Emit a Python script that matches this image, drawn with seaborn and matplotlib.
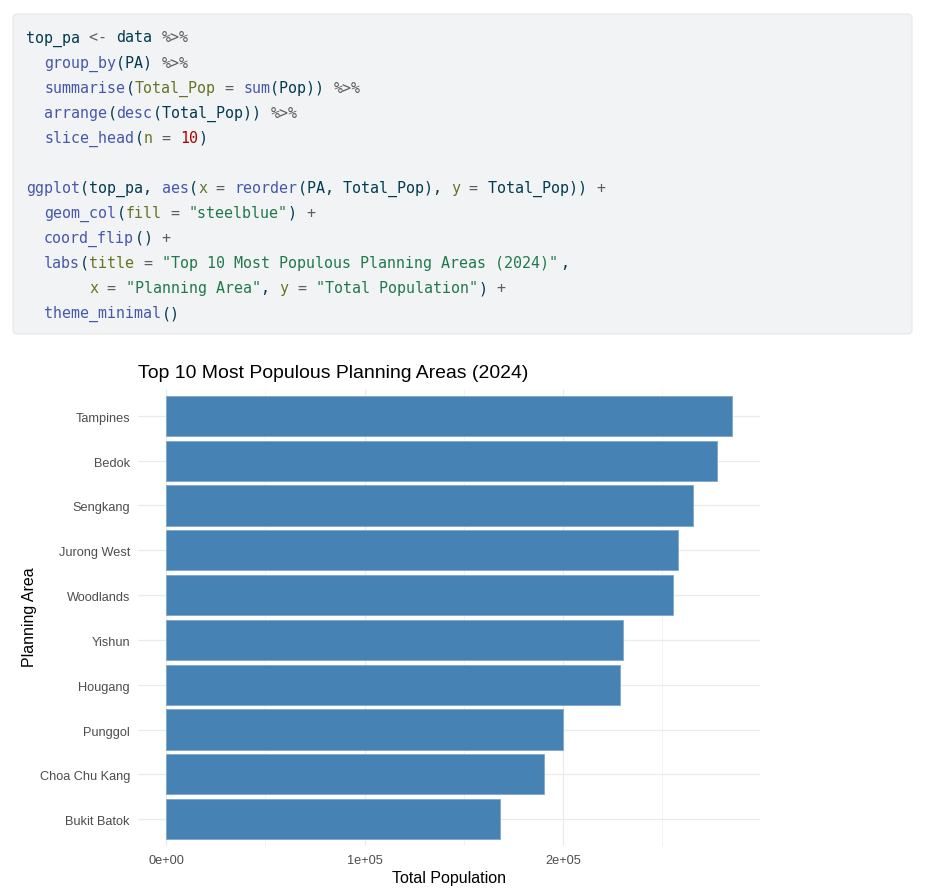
import matplotlib
matplotlib.use("Agg")
import matplotlib.pyplot as plt
import matplotlib.transforms as mtransforms
from matplotlib.patches import FancyBboxPatch
import seaborn as sns
import pandas as pd

# ---------------- data ----------------
areas = ["Tampines", "Bedok", "Sengkang", "Jurong West", "Woodlands",
         "Yishun", "Hougang", "Punggol", "Choa Chu Kang", "Bukit Batok"]
total_pop = [285100, 277700, 265400, 257900, 255500,
             230400, 228700, 199800, 190700, 168400]
xtick_values = [0, 100000, 200000]
xtick_labels = ["0e+00", "1e+05", "2e+05"]
xminor_values = [50000, 150000, 250000]
title_text = "Top 10 Most Populous Planning Areas (2024)"
xlabel_text = "Total Population"
ylabel_text = "Planning Area"

code_lines = [
    [("top_pa", "d"), (" <- ", "op"), ("data", "d"), (" %>%", "op")],
    [("  group_by", "fn"), ("(PA) ", "d"), ("%>%", "op")],
    [("  summarise", "fn"), ("(", "d"), ("Total_Pop", "arg"), (" = ", "op"),
     ("sum", "fn"), ("(Pop)) ", "d"), ("%>%", "op")],
    [("  arrange", "fn"), ("(", "d"), ("desc", "fn"), ("(Total_Pop)) ", "d"), ("%>%", "op")],
    [("  slice_head", "fn"), ("(", "d"), ("n", "arg"), (" = ", "op"), ("10", "num"), (")", "d")],
    [],
    [("ggplot", "fn"), ("(top_pa, ", "d"), ("aes", "fn"), ("(", "d"), ("x", "arg"),
     (" = ", "op"), ("reorder", "fn"), ("(PA, Total_Pop), ", "d"), ("y", "arg"),
     (" = ", "op"), ("Total_Pop)) ", "d"), ("+", "op")],
    [("  geom_col", "fn"), ("(", "d"), ("fill", "arg"), (" = ", "op"),
     ('"steelblue"', "str"), (") ", "d"), ("+", "op")],
    [("  coord_flip", "fn"), ("() ", "d"), ("+", "op")],
    [("  labs", "fn"), ("(", "d"), ("title", "arg"), (" = ", "op"),
     ('"Top 10 Most Populous Planning Areas (2024)"', "str"), (",", "d")],
    [("       x", "arg"), (" = ", "op"), ('"Planning Area"', "str"), (", ", "d"),
     ("y", "arg"), (" = ", "op"), ('"Total Population"', "str"), (") ", "d"), ("+", "op")],
    [("  theme_minimal", "fn"), ("()", "d")],
]
token_colors = {"d": "#003B4F", "fn": "#4758AB", "op": "#5E5E5E",
                "arg": "#657422", "str": "#20794D", "num": "#AD0000"}

# ---------------- figure ----------------
sns.set_style("white")
plt.rcParams["font.family"] = ["Liberation Sans", "DejaVu Sans"]

W, H = 925, 891
fig = plt.figure(figsize=(W / 100, H / 100), dpi=100)
fig.patch.set_facecolor("white")

def fx(px):
    return px / W

def fy(py):
    return 1 - py / H

# code block background
box = FancyBboxPatch((fx(13), fy(334)), fx(912) - fx(13), fy(14) - fy(334),
                     boxstyle="round,pad=0,rounding_size=0.005",
                     transform=fig.transFigure, facecolor="#F1F3F5",
                     edgecolor="#E4E7EA", linewidth=0.8, zorder=0)
fig.patches.append(box)

char_w = 9.05
x0 = 26
for i, toks in enumerate(code_lines):
    base = 42.5 + 25.05 * i
    col = 0
    for txt, kind in toks:
        stripped = txt.lstrip(" ")
        lead = len(txt) - len(stripped)
        if stripped.strip():
            fig.text(fx(x0 + (col + lead) * char_w), fy(base), stripped,
                     fontfamily="DejaVu Sans Mono", fontsize=10.8,
                     color=token_colors[kind], ha="left", va="baseline")
        col += len(txt)

# ---------------- chart ----------------
left, right, top, bottom = 138, 760, 389, 846
ax = fig.add_axes([fx(left), fy(bottom), fx(right) - fx(left), fy(top) - fy(bottom)])
df = pd.DataFrame({"PA": areas, "Total_Pop": total_pop})
sns.barplot(data=df, x="Total_Pop", y="PA", order=areas, orient="h",
            color="#4682B4", saturation=1, width=0.9, ax=ax,
            edgecolor="#7FA7CB", linewidth=0.6, zorder=3)

mx = max(total_pop)
ax.set_xlim(-0.05 * mx, 1.05 * mx)
ax.set_ylim(len(areas) - 0.4, -0.6)
ax.set_xticks(xtick_values)
ax.set_xticklabels(xtick_labels)
ax.set_xticks(xminor_values, minor=True)
ax.grid(which="major", axis="both", color="#EBEBEB", linewidth=0.9, zorder=0)
ax.grid(which="minor", axis="x", color="#F1F1F1", linewidth=0.6, zorder=0)
ax.set_axisbelow(True)
for s in ax.spines.values():
    s.set_visible(False)
ax.tick_params(axis="both", which="both", length=0)
ax.tick_params(axis="y", pad=5.8, labelsize=9.2, labelcolor="#4D4D4D")
ax.tick_params(axis="x", pad=6.5, labelsize=9.2, labelcolor="#4D4D4D")
offset = mtransforms.ScaledTranslation(0, -1.5 / 100, fig.dpi_scale_trans)
for lab in ax.get_yticklabels():
    lab.set_transform(lab.get_transform() + offset)
ax.set_xlabel("")
ax.set_ylabel("")

fig.text(fx(138.5), fy(377.7), title_text, fontsize=13.95, color="black",
         ha="left", va="baseline")
fig.text(fx((left + right) / 2), fy(883), xlabel_text, fontsize=11.5,
         color="black", ha="center", va="baseline")
fig.text(fx(29.7), fy(617), ylabel_text, fontsize=11.5, color="black",
         ha="center", va="center", rotation=90)

fig.savefig("out.png", dpi=100, facecolor="white")
